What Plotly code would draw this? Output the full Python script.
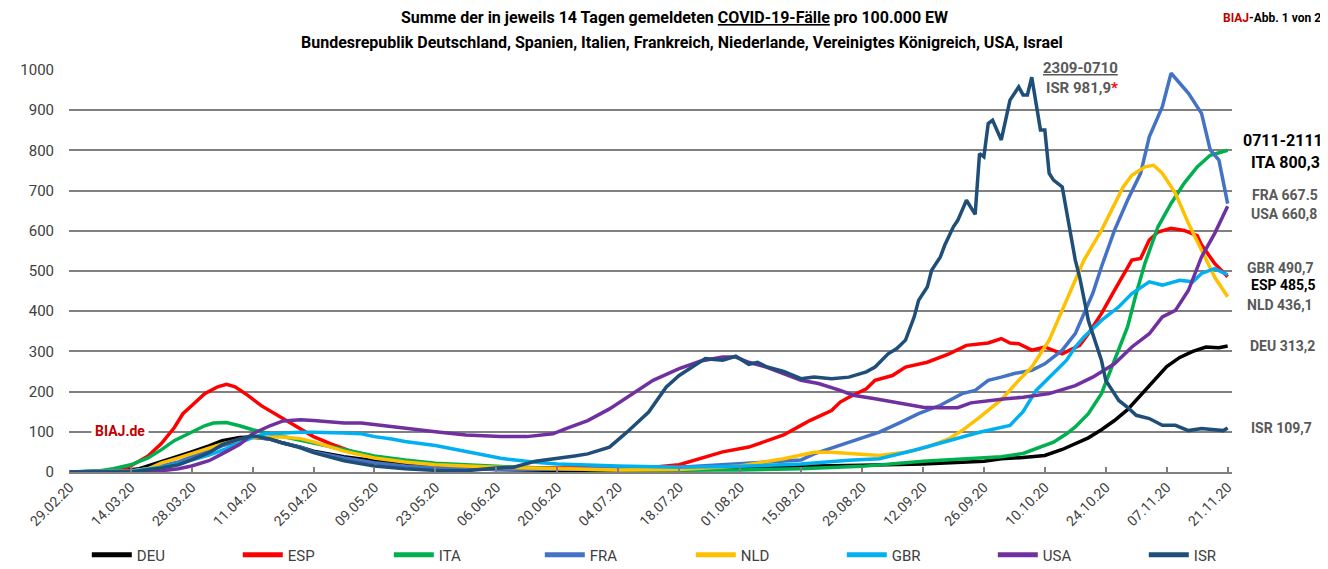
import pandas as pd
import plotly.graph_objects as go

START = pd.Timestamp("2020-02-29")

# ---- data (day offset from 29.02.20, value per 100.000 EW) ----
deu_days = [0,7,12,16,21,25,28,32,35,39,42,46,49,53,56,63,70,77,84,98,112,126,140,154,168,182,196,210,214,219,224,228,231,234,237,240,243,246,249,252,255,258,261,264,266]
deu_vals = [0,1,3,8,25,38,50,65,78,86,87,82,72,62,52,38,27,18,12,6,4,4,5,8,14,17,20,27,33,36,41,56,70,85,105,128,155,190,225,262,285,300,311,309,313.2]

esp_days = [0,7,10,14,18,21,24,26,28,31,34,36,38,41,44,48,52,56,60,65,70,77,84,91,98,112,126,134,140,145,150,156,160,164,168,170,175,177,179,183,185,189,192,197,202,206,211,214,216,218,221,224,228,232,234,237,240,244,246,248,250,253,256,259,260,263,266]
esp_vals = [0,1,4,15,40,70,110,145,165,195,212,218,212,190,165,140,115,88,70,50,38,27,20,15,12,10,10,12,18,35,50,62,78,92,116,128,153,174,186,207,228,240,261,273,294,315,321,332,321,319,303,311,294,315,344,394,452,527,531,577,597,606,601,588,565,519,485.5]

ita_days = [0,7,10,14,18,21,24,28,31,33,36,39,42,46,49,53,56,63,70,77,84,98,112,126,140,154,168,182,196,210,214,219,222,226,229,231,234,237,240,243,245,247,250,253,256,259,262,266]
ita_vals = [0,3,8,18,35,55,78,100,115,122,123,115,105,95,88,80,72,55,40,30,22,14,8,5,4,5,8,14,27,35,38,46,58,74,95,112,145,195,278,361,444,519,610,668,718,759,788,800.3]

fra_days = [0,7,14,18,21,25,28,32,35,39,42,46,49,53,56,63,70,77,84,98,112,126,140,154,160,164,168,171,178,182,186,191,195,200,205,208,211,214,217,221,224,228,231,235,237,240,243,246,248,251,253,255,257,260,262,264,266]
fra_vals = [0,1,3,8,15,25,38,52,65,78,86,82,72,62,50,35,23,15,10,6,6,8,12,20,25,27,30,45,70,83,99,124,145,166,195,203,228,236,245,253,269,303,344,444,510,601,676,743,834,909,992,967,942,892,801,776,667.5]

nld_days = [0,7,14,18,21,25,28,32,35,39,42,46,49,53,56,63,70,77,84,98,112,126,140,154,164,171,175,181,186,192,197,202,205,209,214,218,221,225,229,233,237,240,242,244,247,249,251,254,257,260,263,266]
nld_vals = [0,0,2,8,22,35,45,58,70,80,85,87,87,83,75,52,35,25,18,12,8,5,6,15,33,49,49,44,41,49,62,83,103,136,180,228,261,328,427,527,601,668,709,738,759,763,743,693,618,552,485,436.1]

gbr_days = [0,7,14,21,25,28,32,36,39,42,45,49,53,56,60,63,67,70,74,77,84,88,95,99,107,112,126,140,154,168,179,186,194,201,209,216,219,222,226,229,231,233,237,241,244,248,251,255,258,260,263,266]
gbr_vals = [0,0,1,12,20,30,42,58,72,86,95,98,99,99,99,97,95,88,82,76,66,58,42,34,24,20,15,12,14,20,29,33,54,74,99,116,150,203,245,278,311,336,377,411,444,473,465,477,473,494,506,490.7]

usa_days = [0,14,21,25,28,32,35,39,42,46,49,53,56,60,63,67,70,74,77,84,91,99,105,111,114,119,124,130,134,140,145,150,153,156,160,168,172,177,180,185,189,193,196,200,204,207,211,215,219,225,228,231,235,240,244,248,251,254,257,260,263,266]
usa_vals = [0,0,3,8,15,28,45,68,95,115,127,130,128,125,122,122,118,112,108,100,92,88,88,95,108,128,157,199,228,257,276,286,286,273,261,228,220,203,191,182,174,168,161,160,160,172,178,182,186,195,205,215,236,269,311,344,386,402,452,535,593,660.8]

isr_days = [0,14,21,25,28,32,35,39,42,46,49,53,56,63,70,77,84,91,98,102,107,112,116,119,124,128,133,137,140,143,146,150,153,156,158,160,164,168,171,175,179,183,185,188,190,192,194,195,197,198,200,201,203,204,206,208,209,210,211,212,214,216,218,219,220,221,223,224,225,226,228,231,232,234,237,238,241,243,245,248,251,254,257,260,263,265,266]
isr_vals = [0,0,10,18,30,48,68,82,90,82,72,60,48,28,15,8,4,3,10,12,27,33,40,45,62,99,149,211,240,261,282,278,288,268,273,262,250,232,236,232,236,249,261,294,307,328,386,427,460,502,535,564,610,626,676,641,792,784,867,875,826,925,958,938,938,981.9,851,851,743,726,709,527,485,377,278,228,178,161,141,133,116,116,103,108,105,103,109.7]

series = [
    ("DEU", deu_days, deu_vals, "#000000"),
    ("ESP", esp_days, esp_vals, "#FF0000"),
    ("ITA", ita_days, ita_vals, "#00B050"),
    ("FRA", fra_days, fra_vals, "#4472C4"),
    ("NLD", nld_days, nld_vals, "#FFC000"),
    ("GBR", gbr_days, gbr_vals, "#00B0F0"),
    ("USA", usa_days, usa_vals, "#7030A0"),
    ("ISR", isr_days, isr_vals, "#1F4E79"),
]

tick_days = list(range(0, 267, 14))

FONT = "Roboto, sans-serif"
GREY = "#595959"

OFF = 8  # page body margin
W, H = 1320, 561
L, R, T, B = 61, 96, 62, 97
PW, PH = W - L - R, H - T - B

fig = go.Figure()
for name, days, vals, color in series:
    dates = [START + pd.Timedelta(days=d) for d in days]
    fig.add_trace(go.Scatter(x=dates, y=vals, name=name, mode="lines", legendgroup=name,
                             showlegend=False, line=dict(color=color, width=3.5)))
# legend entries (thicker sample lines, no data)
for name, days, vals, color in series:
    fig.add_trace(go.Scatter(x=[None], y=[None], name=name, mode="lines", legendgroup=name,
                             showlegend=True, line=dict(color=color, width=5)))


def px_x(px):
    return (px - OFF - L) / PW


def px_y(py):
    return (H - B - (py - OFF)) / PH


tickvals = [START + pd.Timedelta(days=d) for d in tick_days]
fig.update_layout(
    width=W, height=H, autosize=False,
    margin=dict(l=L, r=R, t=T, b=B, autoexpand=False),
    paper_bgcolor="white", plot_bgcolor="white",
    font=dict(family=FONT, size=14, color="#404040"),
    showlegend=True,
    legend=dict(orientation="h", x=1.054, y=px_y(555), xanchor="right", yanchor="middle",
                entrywidth=96, itemwidth=40, font=dict(family=FONT, size=15, color="#404040"),
                traceorder="normal", bgcolor="rgba(0,0,0,0)"),
    xaxis=dict(type="date", range=[START - pd.Timedelta(hours=4), START + pd.Timedelta(days=267)],
               tickvals=tickvals, tickformat="%d.%m.%y", tickangle=-45, automargin=False,
               showgrid=False, showline=True, linecolor="#808080", linewidth=1.5,
               ticks="inside", ticklen=5, tickcolor="#808080", tickwidth=1.5,
               tickfont=dict(family=FONT, size=14, color="#404040")),
    yaxis=dict(range=[0, 1000], tickvals=list(range(0, 1001, 100)), automargin=False,
               showgrid=True, gridcolor="#808080", gridwidth=1.5, zeroline=False,
               showline=False, ticks="", ticklabelstandoff=14,
               tickfont=dict(family=FONT, size=15, color="#404040")),
)

texts = [
    ("<b>Summe der in jeweils 14 Tagen gemeldeten <u>COVID-19-Fälle</u> pro 100.000 EW</b>", 674, 18, "center", 16, "#000000"),
    ("<b>Bundesrepublik Deutschland, Spanien, Italien, Frankreich, Niederlande, Vereinigtes Königreich, USA, Israel</b>", 682, 42, "center", 16, "#000000"),
    ("<b><span style='color:#C00000'>BIAJ</span>-Abb. 1 von 2</b>", 1322, 18, "right", 12, "#000000"),
]
for t, x, y, anc, size, col in texts:
    fig.add_annotation(text=t, x=px_x(x), y=px_y(y), xref="paper", yref="paper",
                       xanchor=anc, yanchor="middle", showarrow=False, borderpad=0,
                       font=dict(family=FONT, size=size, color=col))

right_labels = [
    ("0711-2111", 1242, 140, 16, "#000000"),
    ("ITA 800,3", 1250, 162, 16, "#000000"),
    ("FRA 667.5", 1251, 195, 14, GREY),
    ("USA 660,8", 1250, 214, 14, GREY),
    ("GBR 490,7", 1246, 268, 14, GREY),
    ("ESP 485,5", 1250, 285, 14, "#000000"),
    ("NLD 436,1", 1246, 305, 14, GREY),
    ("DEU 313,2", 1249, 346, 14, GREY),
    ("ISR 109,7", 1250, 428, 14, GREY),
]
for t, x, y, size, col in right_labels:
    fig.add_annotation(text="<b>" + t + "</b>", x=px_x(x), y=px_y(y), xref="paper", yref="paper",
                       xanchor="left", yanchor="middle", showarrow=False, borderpad=0,
                       font=dict(family=FONT, size=size, color=col))

fig.add_annotation(text="<b><u>2309-0710</u></b>", x=px_x(1080), y=px_y(68), xref="paper", yref="paper",
                   xanchor="center", yanchor="middle", showarrow=False, bgcolor="white", borderpad=2,
                   font=dict(family=FONT, size=15, color=GREY))
fig.add_annotation(text="<b>ISR 981,9<span style='color:#FF0000'>*</span></b>", x=px_x(1082), y=px_y(88),
                   xref="paper", yref="paper", xanchor="center", yanchor="middle", showarrow=False,
                   font=dict(family=FONT, size=15, color=GREY))
fig.add_annotation(text="<b>BIAJ.de</b>", x=px_x(120), y=px_y(431), xref="paper", yref="paper",
                   xanchor="center", yanchor="middle", showarrow=False, bgcolor="white", borderpad=3,
                   font=dict(family=FONT, size=14, color="#C00000"))

fig.write_html("out.html")
